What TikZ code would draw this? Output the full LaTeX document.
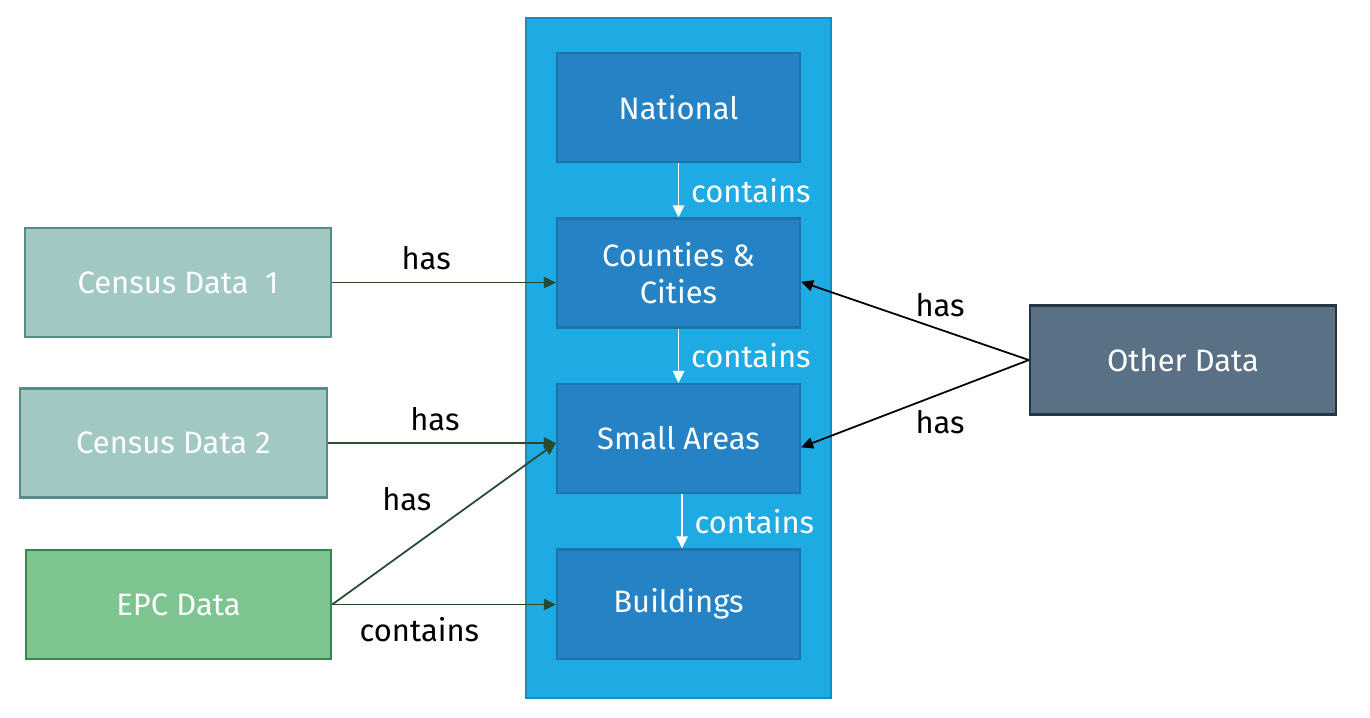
\documentclass[tikz,border=0pt]{standalone}
\usepackage{fontspec}
\setmainfont{Fira Sans}
\usetikzlibrary{arrows.meta}
\definecolor{outerblue}{RGB}{30,171,227}
\definecolor{outerline}{RGB}{22,140,192}
\definecolor{levelblue}{RGB}{37,130,197}
\definecolor{levelline}{RGB}{30,115,170}
\definecolor{censusfill}{RGB}{162,200,196}
\definecolor{censusline}{RGB}{84,140,135}
\definecolor{epcfill}{RGB}{126,196,144}
\definecolor{epcline}{RGB}{58,130,80}
\definecolor{otherfill}{RGB}{90,112,133}
\definecolor{otherline}{RGB}{40,52,64}
\definecolor{hasgreen}{RGB}{38,74,50}
\begin{document}
\begin{tikzpicture}
  [
    x=0.01cm, y=-0.01cm,
    font=\fontsize{8.8}{10.5}\selectfont,
    box/.style={rectangle,draw,line width=0.6pt,text=white,align=center,minimum height=1.09cm,inner sep=0},
    level box/.style={box,fill=levelblue,draw=levelline,minimum width=2.43cm},
    census box/.style={box,fill=censusfill,draw=censusline,minimum width=3.06cm},
    tip/.style={-{Triangle[length=3.4pt,width=3.2pt]},line width=0.5pt},
    contains edge/.style={tip,draw=white,fill=white},
    has edge/.style={tip,draw=hasgreen,fill=hasgreen},
    other edge/.style={tip,draw=black,fill=black},
    edge label/.style={text=black},
  ]
  \useasboundingbox (0,0) rectangle (1370,717);

  \node(frame)[rectangle,draw=outerline,fill=outerblue,line width=0.6pt,minimum width=3.05cm,minimum height=6.8cm] at (678.5,358) {};

  \node(national)[level box] at (678.5,107.5) {National};
  \node(counties)[level box] at (678.5,273) {Counties \&\\Cities};
  \node(small)[level box] at (678.5,438.5) {Small Areas};
  \node(buildings)[level box] at (678.5,604) {Buildings};

  \node(census1)[census box] at (178,282.5) {Census Data\ \ 1};
  \node(census2)[census box] at (173.5,443) {Census Data 2};
  \node(epc)[box,fill=epcfill,draw=epcline,minimum width=3.05cm] at (178.5,604.5) {EPC Data};
  \node(other)[box,fill=otherfill,draw=otherline,minimum width=3.06cm] at (1183,360) {Other Data};

  \draw[contains edge] (national) -- (counties) node[midway,right,text=white]{contains};
  \draw[contains edge] (counties) -- (small) node[midway,right,text=white]{contains};
  \draw[contains edge] ([xshift=1pt]small.south) -- ([xshift=1pt]buildings.north) node[midway,right,text=white]{contains};

  \coordinate(small in) at (census2.east -| small.west);
  \draw[has edge] (census1.east) -- (census1.east -| counties.west) node[pos=0.42,above,edge label]{has};
  \draw[has edge] (census2.east) -- (small in) node[pos=0.47,above,edge label]{has};
  \draw[has edge] (epc.east) -- (small in) node[pos=0.5,above left,edge label]{has};
  \draw[has edge] (epc.east) -- (epc.east -| buildings.west) node[pos=0.39,below,edge label]{contains};

  \draw[other edge] (other.west) -- ([yshift=-2.5pt]counties.east) node[pos=0.39,above,edge label]{has};
  \draw[other edge] (other.west) -- ([yshift=-2.5pt]small.east) node[pos=0.39,below=1pt,edge label]{has};

\end{tikzpicture}
\end{document}
